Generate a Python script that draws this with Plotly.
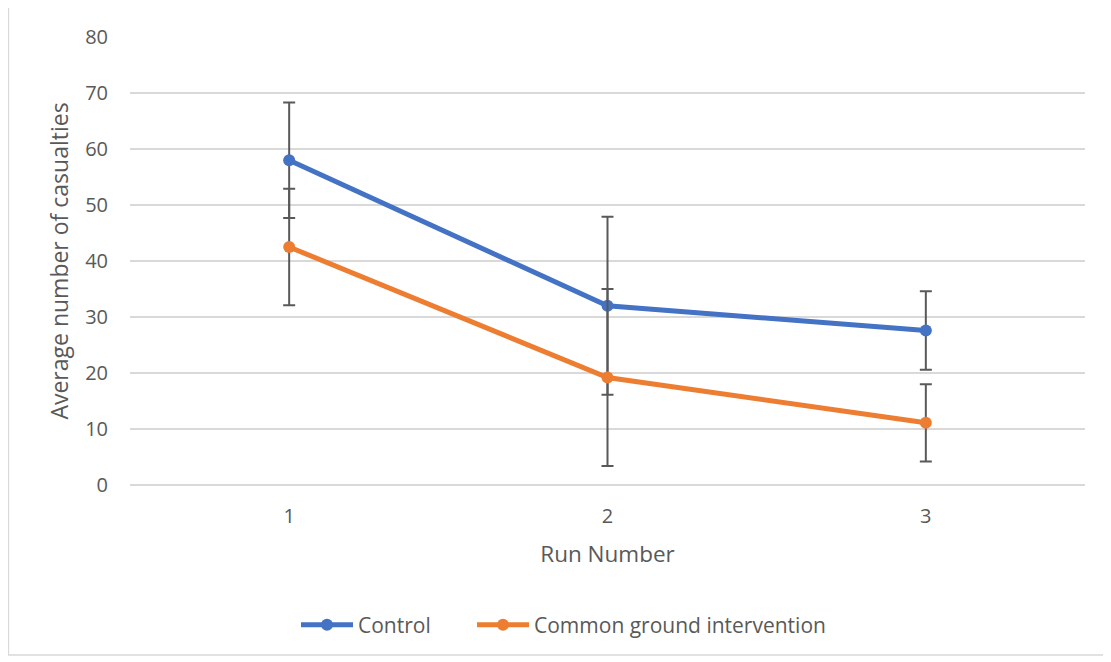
import plotly.graph_objects as go

runs = ["1", "2", "3"]
control = [58.0, 32.0, 27.6]
control_err = [10.3, 15.9, 7.0]
common = [42.5, 19.2, 11.1]
common_err = [10.4, 15.8, 6.9]

OFF = 8  # page body margin
L, R, T, B = 130 - OFF, 1085 - OFF, 37 - OFF, 485 - OFF
W, H = 1111 - OFF, 662 - OFF

def px(x):
    return (x - OFF - L) / (R - L)

def py(y):
    return (B - (y - OFF)) / (B - T)

fig = go.Figure()
fig.add_trace(go.Scatter(
    x=runs, y=control, name="Control", mode="lines+markers",
    line=dict(color="#4472C4", width=5),
    marker=dict(size=12, color="#4472C4"),
    error_y=dict(type="data", array=control_err, visible=True,
                 color="#595959", thickness=2, width=6),
    legend="legend",
))
fig.add_trace(go.Scatter(
    x=runs, y=common, name="Common ground intervention", mode="lines+markers",
    line=dict(color="#ED7D31", width=5),
    marker=dict(size=12, color="#ED7D31"),
    error_y=dict(type="data", array=common_err, visible=True,
                 color="#595959", thickness=2, width=6),
    legend="legend2",
))

font = "Open Sans, Liberation Sans, sans-serif"
leg_common = dict(orientation="h", xanchor="left", yanchor="middle",
                  font=dict(size=21, color="#595959"), itemwidth=52,
                  bgcolor="rgba(0,0,0,0)")
fig.update_layout(
    width=W, height=H,
    margin=dict(l=L, r=W - R, t=T, b=H - B),
    paper_bgcolor="white", plot_bgcolor="white",
    font=dict(family=font, color="#595959", size=20),
    showlegend=True,
    legend=dict(leg_common, x=px(296), y=py(625)),
    legend2=dict(leg_common, x=px(472), y=py(625)),
    xaxis=dict(type="category", range=[-0.5, 2.5], showgrid=False, zeroline=False,
               showline=False, ticks="", tickfont=dict(size=20), ticklabelstandoff=17,
               title=dict(text="Run Number", font=dict(size=22.5), standoff=18)),
    yaxis=dict(range=[0, 80], dtick=10, showgrid=True, gridcolor="#D9D9D9", gridwidth=1.5,
               zeroline=True, zerolinecolor="#D9D9D9", zerolinewidth=1.5,
               showline=False, ticks="", tickfont=dict(size=20), ticklabelstandoff=21,
               title=dict(text="Average number of casualties", font=dict(size=23), standoff=10)),
    shapes=[dict(type="rect", xref="paper", yref="paper",
                 x0=px(8.5), x1=px(1105), y0=py(655), y1=py(7),
                 line=dict(color="#D9D9D9", width=1.3), fillcolor="rgba(0,0,0,0)", layer="below")],
)

fig.write_html("out.html")
